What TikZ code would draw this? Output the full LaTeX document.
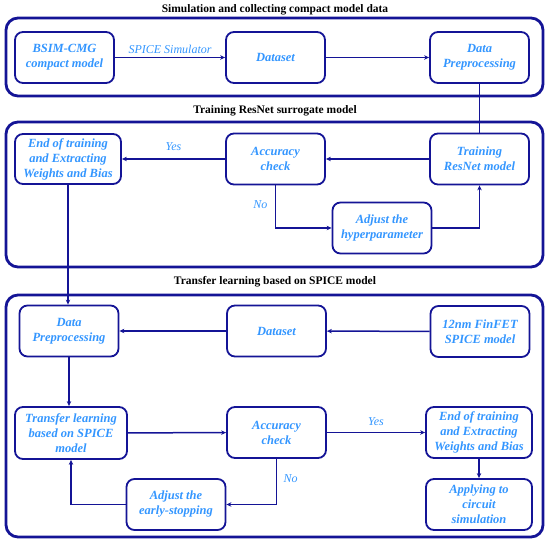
\documentclass[tikz,border=0pt]{standalone}
\usepackage{fontspec}
\setmainfont{Liberation Serif}
\usetikzlibrary{arrows.meta,positioning}

\definecolor{navyline}{RGB}{20,20,150}
\definecolor{skytext}{RGB}{51,150,255}

\begin{document}
\begin{tikzpicture}[
  x=1pt,y=-1pt,
  >={Stealth[length=5pt,width=4.5pt]},
  stage/.style={draw=navyline,line width=2.8pt,rounded corners=12pt},
  stagetitle/.style={font=\bfseries\fontsize{11.5}{13}\selectfont,text=black},
  block/.style={draw=navyline,line width=1.8pt,rounded corners=8pt,fill=white,
    text=skytext,font=\bfseries\itshape\fontsize{12.5}{15}\selectfont,
    align=center,minimum width=99pt,minimum height=51pt,inner sep=2pt},
  flow/.style={draw=navyline,line width=1.5pt},
  tag/.style={text=skytext,font=\itshape\fontsize{12}{14}\selectfont}
]
  \useasboundingbox (0,0) rectangle (550,545);

  % stage frames and titles
  \draw[stage] (6,18) rectangle (543,96);
  \draw[stage] (6,122) rectangle (543,267);
  \draw[stage] (6,295) rectangle (543,537);
  \node[stagetitle] (t1) at (275,10) {Simulation and collecting compact model data};
  \node[stagetitle] (t2) at (275,111) {Training ResNet surrogate model};
  \node[stagetitle] (t3) at (275,282) {Transfer learning based on SPICE model};

  % stage 1
  \node[block] (bsim) at (64.5,57.5) {BSIM-CMG\\compact model};
  \node[block] (data1) at (275.5,57.5) {Dataset};
  \node[block] (prep1) at (479.5,57.5) {Data\\Preprocessing};

  % stage 2
  \node[block,minimum width=106pt,minimum height=50pt] (end1) at (68,159) {End of training\\and Extracting\\Weights and Bias};
  \node[block] (acc1) at (275.5,159) {Accuracy\\check};
  \node[block] (res1) at (479.5,159) {Training\\ResNet model};
  \node[block] (hyp1) at (382,228) {Adjust the\\hyperparameter};

  % stage 3
  \node[block] (prep2) at (69,331) {Data\\Preprocessing};
  \node[block] (data2) at (276.5,331) {Dataset};
  \node[block] (fin2) at (480,331.5) {12nm FinFET\\SPICE model};
  \node[block,minimum width=112pt,minimum height=52pt] (tl2) at (71,433) {Transfer learning\\based on SPICE\\model};
  \node[block] (acc2) at (276.5,432.5) {Accuracy\\check};
  \node[block,minimum width=106pt] (end2) at (479,432.5) {End of training\\and Extracting\\Weights and Bias};
  \node[block,minimum width=106pt] (app2) at (479,504.5) {Applying to\\circuit\\simulation};
  \node[block] (early2) at (176,504.5) {Adjust the\\early-stopping};

  % connectors
  \draw[flow,->] (bsim) -- node[tag,above] {SPICE Simulator} (data1);
  \draw[flow,->] (data1) -- (prep1);
  \draw[flow] (prep1.south) -- (prep1.south |- res1.north);
  \draw[flow,->] (res1) -- (acc1);
  \draw[flow,->] (acc1) -- node[tag,above=4pt] {Yes} (end1);
  \draw[flow,->] (acc1.south) |- node[tag,pos=0.22,left=4pt] {No} (hyp1.west);
  \draw[flow,->] (hyp1.east) -| (res1.south);
  \draw[flow,->] (end1.south) -- (end1.south |- prep2.north);

  \draw[flow,->] (fin2) -- (data2);
  \draw[flow,->] (data2) -- (prep2);
  \draw[flow,->] (prep2.south) -- (prep2.south |- tl2.north);
  \draw[flow,->] (tl2) -- (acc2);
  \draw[flow,->] (acc2) -- node[tag,above=3pt] {Yes} (end2);
  \draw[flow,->] (end2) -- (app2);
  \draw[flow,->] (acc2.south) |- node[tag,pos=0.22,right=3pt] {No} (early2.east);
  \draw[flow,->] (early2.west) -| (tl2.south);
\end{tikzpicture}
\end{document}
